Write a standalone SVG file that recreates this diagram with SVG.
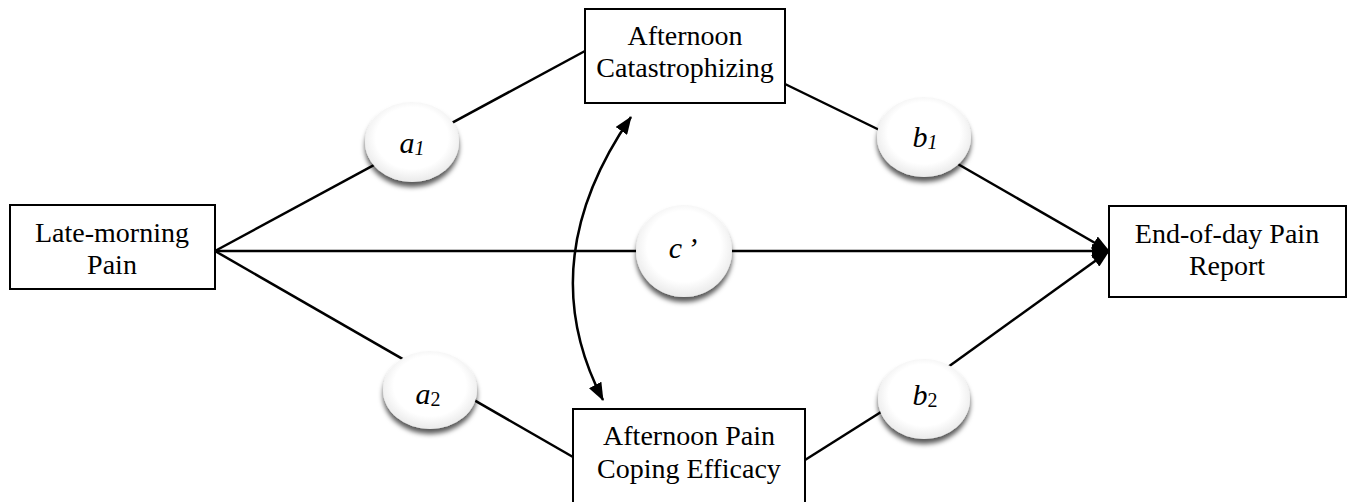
<svg xmlns="http://www.w3.org/2000/svg" width="1358" height="502" viewBox="0 0 1358 502">
<style>
text{font-family:'Liberation Serif','Times New Roman',Times,'DejaVu Serif',serif}
.box{fill:#fff;stroke:#000;stroke-width:2}
.lbl{font-size:28px;fill:#000;text-anchor:middle}
.coef{font-size:30px;font-style:italic;fill:#000;text-anchor:middle}
.sub{font-size:20px}
.ln{stroke:#000;stroke-width:2.5;fill:none}
.ell{fill:url(#eg);filter:url(#sh)}
</style>
<defs>
<radialGradient id="eg" cx="0.5" cy="0.45" r="0.55">
<stop offset="0.7" stop-color="#ffffff"/>
<stop offset="1" stop-color="#eaeaea"/>
</radialGradient>
<filter id="sh" x="-20%" y="-20%" width="140%" height="150%">
<feDropShadow dx="0" dy="5" stdDeviation="2.5" flood-color="#000" flood-opacity="0.65"/>
</filter>
<marker id="ah" viewBox="0 0 18 14" refX="17" refY="7" markerWidth="18" markerHeight="14" markerUnits="userSpaceOnUse" orient="auto-start-reverse">
<path d="M0,0 L18,7 L0,14 z" fill="#000"/>
</marker>
</defs>
<g id="connectors">
<line class="ln" x1="215" y1="251" x2="585" y2="51"/>
<line class="ln" x1="215" y1="251" x2="573" y2="457"/>
<line class="ln" x1="215" y1="251" x2="1109" y2="251" marker-end="url(#ah)"/>
<line class="ln" x1="785" y1="84" x2="900" y2="140"/>
<line class="ln" x1="930" y1="148" x2="1109" y2="251" marker-end="url(#ah)"/>
<line class="ln" x1="805" y1="460" x2="900" y2="400"/>
<line class="ln" x1="930" y1="380" x2="1109" y2="251" marker-end="url(#ah)"/>
<path class="ln" d="M631,117 Q531,262 603,400" marker-start="url(#ah)" marker-end="url(#ah)"/>
</g>
<g id="late-morning-pain">
<rect class="box" x="10" y="205" width="205" height="84"/>
<text class="lbl" x="112" y="242">Late-morning</text>
<text class="lbl" x="112" y="274">Pain</text>
</g>
<g id="afternoon-catastrophizing">
<rect class="box" x="585" y="9" width="200" height="94"/>
<text class="lbl" x="685" y="45">Afternoon</text>
<text class="lbl" x="685" y="77">Catastrophizing</text>
</g>
<g id="afternoon-coping">
<rect class="box" x="573" y="409" width="232" height="100"/>
<text class="lbl" x="689" y="445">Afternoon Pain</text>
<text class="lbl" x="689" y="478">Coping Efficacy</text>
</g>
<g id="end-of-day-pain">
<rect class="box" x="1109" y="206" width="237" height="91"/>
<text class="lbl" x="1227" y="243">End-of-day Pain</text>
<text class="lbl" x="1227" y="275">Report</text>
</g>
<g id="a1">
<ellipse class="ell" cx="412" cy="142" rx="47" ry="40"/>
<text class="coef" x="412" y="153">a<tspan class="sub" dy="2">1</tspan></text>
</g>
<g id="a2">
<ellipse class="ell" cx="430" cy="390" rx="47" ry="39"/>
<text class="coef" x="428" y="404">a<tspan class="sub" dy="2" font-style="normal">2</tspan></text>
</g>
<g id="b1">
<ellipse class="ell" cx="924" cy="137" rx="47" ry="40"/>
<text class="coef" x="925" y="147">b<tspan class="sub" dy="2">1</tspan></text>
</g>
<g id="b2">
<ellipse class="ell" cx="924" cy="399" rx="46" ry="40"/>
<text class="coef" x="925" y="405">b<tspan class="sub" dy="2" font-style="normal">2</tspan></text>
</g>
<g id="c-prime">
<ellipse class="ell" cx="684" cy="251" rx="48" ry="46"/>
<text class="coef" x="683" y="258">c<tspan dx="5">’</tspan></text>
</g>
</svg>
